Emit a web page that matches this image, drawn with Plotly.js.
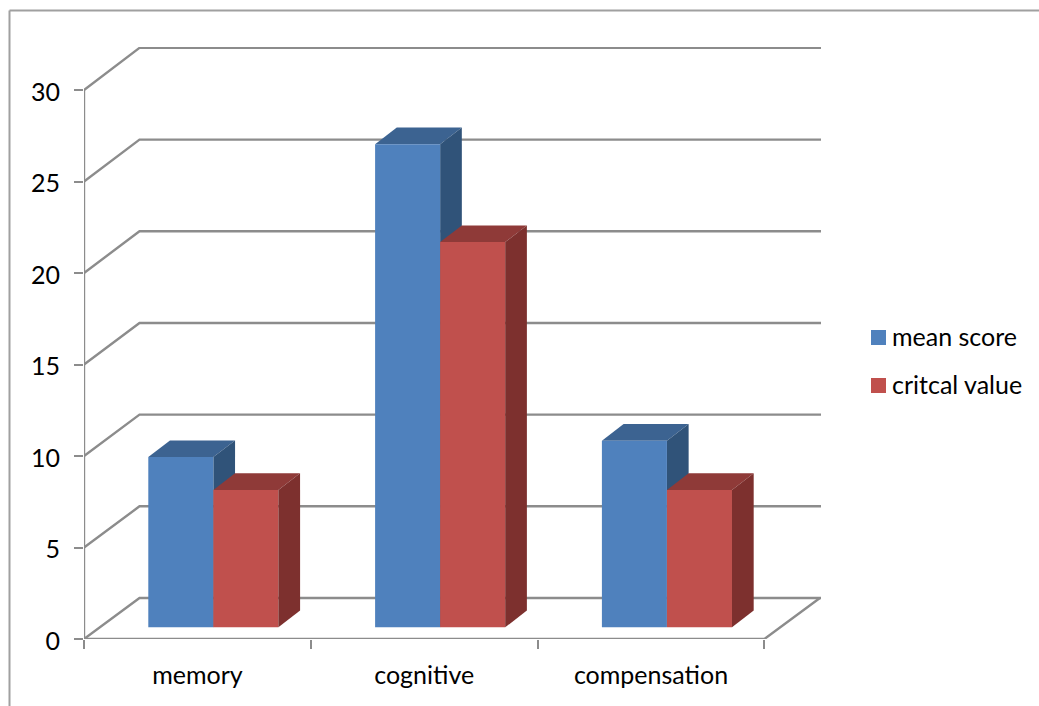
<!DOCTYPE html>
<html>
<head>
<meta charset="utf-8">
<script src="https://cdn.plot.ly/plotly-3.0.1.min.js"></script>
<style>html,body{margin:0;padding:0;background:#fff;overflow:hidden}</style>
</head>
<body>
<div id="chart" style="width:1039px;height:706px"></div>
<script>
// Chart data
const categories = ['memory', 'cognitive', 'compensation'];
const meanScore = [9.3, 26.4, 10.2];
const criticalValue = [7.5, 21.05, 7.5];
const seriesNames = ['mean score', 'critcal value'];
const valueTicks = [0, 5, 10, 15, 20, 25, 30];

// Plot frame in pixels
const W = 1039, H = 706;
const M = {l: 84, r: 218, t: 47, b: 67};
const plotW = W - M.l - M.r, plotH = H - M.t - M.b;
const pxPerCat = 226.8, pxPerUnit = 18.3;
const xMax = plotW / pxPerCat, yMax = plotH / pxPerUnit;
const px = v => (v - M.l) / plotW;
const py = v => 1 - (v - M.t) / plotH;

// Oblique projection used for the walls and the bar depth
const wallDx = 55.5 / pxPerCat, wallDy = 41 / pxPerUnit, wallStretch = 1.002;
const barDx = 21.7 / pxPerCat, barDy = 16.7 / pxPerUnit;
const barBase = 11.7 / pxPerUnit;
const barWidth = 0.2868;
const barOffsets = [-0.2165, 0.0703];

const gridColor = '#8c8c8c', frameColor = '#a0a0a0', ink = '#000000';
const fontFamily = 'Lato, sans-serif';
const fronts = ['#4f81bd', '#c0504d'];
const tops = ['#3c6391', '#8f3a38'];
const sides = ['#305379', '#7d302e'];
const centers = categories.map((_, i) => i + 0.5);

// Back wall and side wall gridlines
const gx = [], gy = [];
valueTicks.forEach(v => {
  gx.push(0, wallDx, xMax, null);
  gy.push(v, wallDy + v * wallStretch, wallDy + v * wallStretch, null);
});
const grid = {
  x: gx, y: gy, mode: 'lines', xaxis: 'x', yaxis: 'y', hoverinfo: 'skip', cliponaxis: false,
  line: {color: gridColor, width: 2.4}, showlegend: false
};

// Value axis line and the front and right edges of the floor
const floorEdges = {
  x: [0, 0, null, 0, 3, 3 + wallDx],
  y: [valueTicks[valueTicks.length - 1], 0, null, 0, 0, wallDy],
  mode: 'lines', xaxis: 'x', yaxis: 'y', hoverinfo: 'skip', cliponaxis: false,
  line: {color: gridColor, width: 2.4}, showlegend: false
};

// Top and side faces of one series, derived from its values
function depthFaces(values, s, xa, ya) {
  const out = [];
  values.forEach((v, i) => {
    const xl = centers[i] + barOffsets[s], xr = xl + barWidth, top = barBase + v;
    out.push({
      x: [xl, xr, xr + barDx, xl + barDx, xl], y: [top, top, top + barDy, top + barDy, top],
      fill: 'toself', fillcolor: tops[s], mode: 'lines', line: {width: 0},
      xaxis: xa, yaxis: ya, hoverinfo: 'skip', showlegend: false, cliponaxis: false
    });
    out.push({
      x: [xr, xr + barDx, xr + barDx, xr, xr], y: [top, top + barDy, barBase + barDy, barBase, top],
      fill: 'toself', fillcolor: sides[s], mode: 'lines', line: {width: 0},
      xaxis: xa, yaxis: ya, hoverinfo: 'skip', showlegend: false, cliponaxis: false
    });
  });
  return out;
}

// Front faces
function frontBars(values, s) {
  return {
    type: 'bar', name: seriesNames[s], x: centers, y: values,
    base: barBase, width: barWidth, offset: barOffsets[s],
    marker: {color: fronts[s], line: {width: 0}},
    xaxis: 'x2', yaxis: 'y2', showlegend: false
  };
}

const data = [
  grid, floorEdges,
  ...depthFaces(meanScore, 0, 'x', 'y'),
  frontBars(meanScore, 0), frontBars(criticalValue, 1),
  ...depthFaces(criticalValue, 1, 'x2', 'y2')
];

// Legend swatches and labels
const legendRows = [337.5, 385.5];
const shapes = [
  {type: 'line', xref: 'paper', yref: 'paper', x0: px(9.5), x1: px(W), y0: py(10.5), y1: py(10.5),
   line: {color: frameColor, width: 2}},
  {type: 'line', xref: 'paper', yref: 'paper', x0: px(9.5), x1: px(9.5), y0: py(10.5), y1: py(H),
   line: {color: frameColor, width: 2}}
];
const annotations = [];
seriesNames.forEach((name, s) => {
  shapes.push({type: 'rect', xref: 'paper', yref: 'paper',
    x0: px(871), x1: px(886), y0: py(legendRows[s] - 7.5), y1: py(legendRows[s] + 7.5),
    fillcolor: fronts[s], line: {width: 0}});
  annotations.push({xref: 'paper', yref: 'paper', x: px(890), y: py(legendRows[s] - 2),
    xanchor: 'left', yanchor: 'middle', showarrow: false, text: name,
    font: {family: fontFamily, size: 25, color: ink}});
});

const layout = {
  width: W, height: H,
  margin: {l: M.l, r: M.r, t: M.t, b: M.b, pad: 0},
  paper_bgcolor: '#ffffff', plot_bgcolor: 'rgba(0,0,0,0)',
  barmode: 'overlay', showlegend: false,
  font: {family: fontFamily, size: 25, color: ink},
  xaxis: {
    range: [0, xMax], tickmode: 'array', tickvals: [0, 1, 2, 3], ticktext: ['', '', '', ''],
    ticks: 'outside', ticklen: 9, tickwidth: 2, tickcolor: gridColor,
    showgrid: false, zeroline: false, showline: false, fixedrange: true
  },
  xaxis2: {
    overlaying: 'x', anchor: 'y2', side: 'bottom',
    range: [0, xMax], tickmode: 'array', tickvals: centers, ticktext: categories,
    ticks: 'outside', ticklen: 14, tickwidth: 0, tickcolor: 'rgba(0,0,0,0)',
    tickfont: {family: fontFamily, size: 25, color: ink},
    showgrid: false, zeroline: false, showline: false, fixedrange: true
  },
  yaxis: {
    range: [0, yMax], tickmode: 'array', tickvals: valueTicks,
    ticks: 'outside', ticklen: 9, tickwidth: 2, tickcolor: gridColor, ticklabelstandoff: 9,
    ticklabelshift: 2,
    tickfont: {family: fontFamily, size: 25, color: ink},
    showgrid: false, zeroline: false, showline: false, fixedrange: true
  },
  yaxis2: {
    overlaying: 'y', anchor: 'x2', range: [0, yMax], visible: false, fixedrange: true
  },
  shapes, annotations
};

Plotly.newPlot('chart', data, layout, {displayModeBar: false, responsive: false});
</script>
</body>
</html>
